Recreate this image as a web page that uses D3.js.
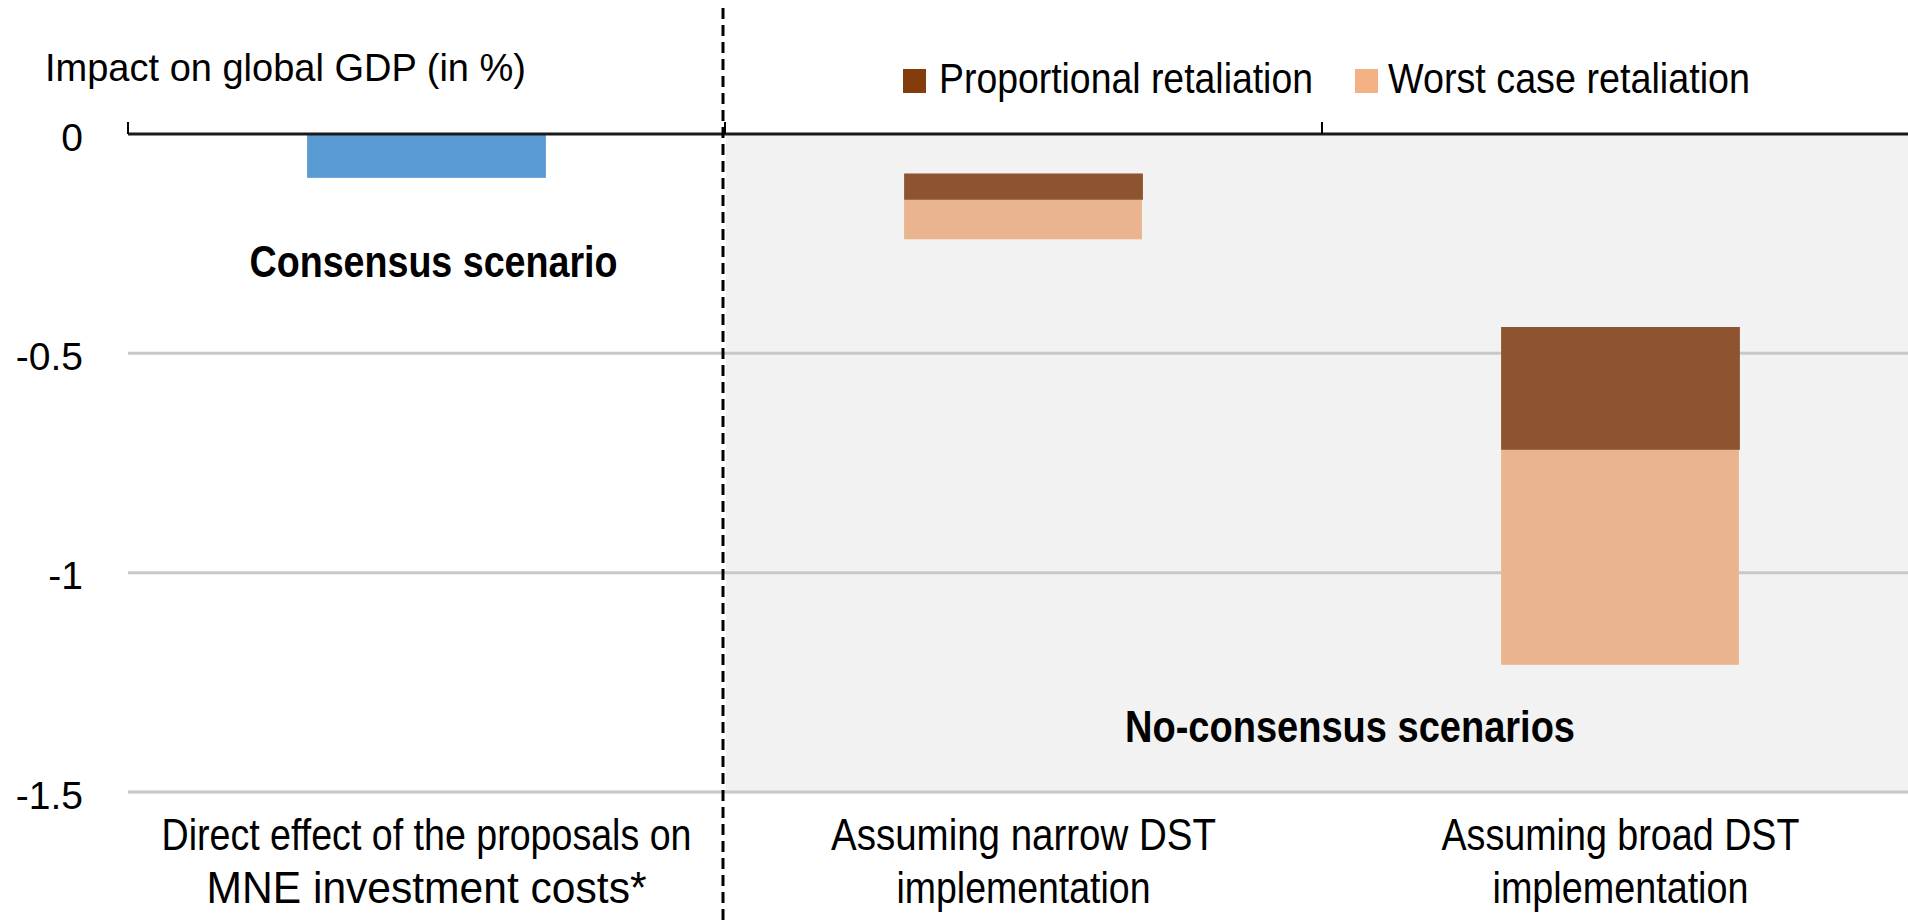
<!DOCTYPE html>
<html>
<head>
<meta charset="utf-8">
<script src="https://cdn.jsdelivr.net/npm/d3@7"></script>
<style>
  html, body { margin: 0; padding: 0; background: #ffffff; }
  svg { display: block; }
  .reg { font-family: "Liberation Sans", Arial, sans-serif; }
  .nar { font-family: "Liberation Sans Narrow", "Arial Narrow", "Liberation Sans", Arial, sans-serif; }
</style>
</head>
<body>
<svg id="chart" width="1908" height="920"></svg>
<script>
// ---------------- data ----------------
const categories = [
  "Direct effect of the proposals on MNE investment costs*",
  "Assuming narrow DST implementation",
  "Assuming broad DST implementation"
];
const categoryLines = [
  ["Direct effect of the proposals on", "MNE investment costs*"],
  ["Assuming narrow DST", "implementation"],
  ["Assuming broad DST", "implementation"]
];
// consensus scenario (single bar)
const consensusValues = [-0.10, null, null];
// no-consensus: floating ranges
const proportionalTop    = [null, -0.09, -0.44];
const proportionalBottom = [null, -0.15, -0.72];
const worstTop           = [null, -0.15, -0.72];
const worstBottom        = [null, -0.24, -1.21];
const tickValues = [0, -0.5, -1, -1.5];
const tickLabels = ["0", "-0.5", "-1", "-1.5"];
const legendLabels = ["Proportional retaliation", "Worst case retaliation"];

(function () {
// ---------------- layout ----------------
const svg = d3.select("#chart");
const pLeft = 128, pRight = 1919, pTop = 134, pBottom = 792;
const x = d3.scaleBand().domain(categories).range([pLeft, pRight])
  .paddingInner(0.6).paddingOuter(0.3);
const y = d3.scaleLinear().domain([-1.5, 0]).range([pBottom, pTop]);
const step = x.step();

// grey background for no-consensus area
svg.append("rect")
  .attr("x", pLeft + step + 1).attr("y", y(0))
  .attr("width", 1908 - (pLeft + step + 1)).attr("height", y(-1.5) - y(0))
  .attr("fill", "#f2f2f2");

// gridlines
svg.append("g").selectAll("line").data(tickValues.filter(v => v !== 0)).join("line")
  .attr("x1", pLeft).attr("x2", 1908)
  .attr("y1", d => y(d)).attr("y2", d => y(d))
  .attr("stroke", "#c8c8c8").attr("stroke-width", 3);

// y axis labels via d3 axis
const yAxis = d3.axisLeft(y).tickValues(tickValues)
  .tickFormat((d, i) => tickLabels[i]).tickSize(0).tickPadding(0);
const yg = svg.append("g").attr("transform", "translate(83,0)").call(yAxis);
yg.select(".domain").remove();
yg.attr("font-family", "Liberation Sans, Arial, sans-serif").attr("font-size", 39);
yg.selectAll("text").attr("fill", "#000").attr("dy", "16px");

// bars
const bw = x.bandwidth();
svg.append("g").selectAll("rect")
  .data(categories.map((c, i) => ({c, v: consensusValues[i]})).filter(d => d.v !== null))
  .join("rect")
  .attr("x", d => x(d.c)).attr("width", bw)
  .attr("y", y(0)).attr("height", d => y(d.v) - y(0))
  .attr("fill", "#5b9bd5");

const worstData = categories.map((c, i) => ({c, t: worstTop[i], b: worstBottom[i]})).filter(d => d.t !== null);
svg.append("g").selectAll("rect").data(worstData).join("rect")
  .attr("x", d => x(d.c)).attr("width", bw - 1)
  .attr("y", d => y(d.t)).attr("height", d => y(d.b) - y(d.t))
  .attr("fill", "#e9b48e");

const propData = categories.map((c, i) => ({c, t: proportionalTop[i], b: proportionalBottom[i]})).filter(d => d.t !== null);
svg.append("g").selectAll("rect").data(propData).join("rect")
  .attr("x", d => x(d.c)).attr("width", bw)
  .attr("y", d => y(d.t)).attr("height", d => y(d.b) - y(d.t))
  .attr("fill", "#8e5430");

// zero axis line and category boundary ticks
svg.append("line").attr("x1", pLeft).attr("x2", 1908)
  .attr("y1", y(0)).attr("y2", y(0))
  .attr("stroke", "#1a1a1a").attr("stroke-width", 3);
const boundaries = d3.range(categories.length + 1).map(i => pLeft + i * step);
svg.append("g").selectAll("line").data(boundaries).join("line")
  .attr("x1", d => d).attr("x2", d => d)
  .attr("y1", y(0) - 12).attr("y2", y(0))
  .attr("stroke", "#000").attr("stroke-width", 2);

// dashed separator
svg.append("line").attr("x1", pLeft + step - 2).attr("x2", pLeft + step - 2)
  .attr("y1", 8).attr("y2", 920)
  .attr("stroke", "#000").attr("stroke-width", 3)
  .attr("stroke-dasharray", "11,6");

// title
svg.append("text").attr("class", "reg")
  .attr("x", 45).attr("y", 81)
  .style("font-size", "39px").attr("fill", "#000")
  .attr("textLength", 481).attr("lengthAdjust", "spacingAndGlyphs")
  .text("Impact on global GDP (in %)");

// category labels
const labelWidths = [[530, 440], [385, 254], [358, 256]];
categories.forEach((c, i) => {
  const cx = x(c) + bw / 2;
  categoryLines[i].forEach((line, j) => {
    svg.append("text").attr("class", "nar")
      .attr("x", cx).attr("y", 850 + j * 53)
      .attr("text-anchor", "middle")
      .style("font-size", "45px").attr("fill", "#000")
      .attr("textLength", labelWidths[i][j]).attr("lengthAdjust", "spacingAndGlyphs")
      .text(line);
  });
});

// scenario annotations
svg.append("text").attr("class", "nar")
  .attr("x", x(categories[0]) + bw / 2 + 7).attr("y", 277)
  .attr("text-anchor", "middle").style("font-size", "44px").style("font-weight", "bold")
  .attr("textLength", 368).attr("lengthAdjust", "spacingAndGlyphs")
  .text("Consensus scenario");
svg.append("text").attr("class", "nar")
  .attr("x", pLeft + step * 2 + 28).attr("y", 742)
  .attr("text-anchor", "middle").style("font-size", "44px").style("font-weight", "bold")
  .attr("textLength", 450).attr("lengthAdjust", "spacingAndGlyphs")
  .text("No-consensus scenarios");

// legend
const legendColors = ["#843c0c", "#f4b183"];
const legendX = [903, 1355];
const legendTextX = [939, 1388];
const legendW = [374, 362];
legendLabels.forEach((lab, i) => {
  svg.append("rect").attr("x", legendX[i]).attr("y", 69)
    .attr("width", 23).attr("height", 24).attr("fill", legendColors[i]);
  svg.append("text").attr("class", "nar")
    .attr("x", legendTextX[i]).attr("y", 93)
    .style("font-size", "43px").attr("fill", "#000")
    .attr("textLength", legendW[i]).attr("lengthAdjust", "spacingAndGlyphs")
    .text(lab);
});
})();
</script>
</body>
</html>
